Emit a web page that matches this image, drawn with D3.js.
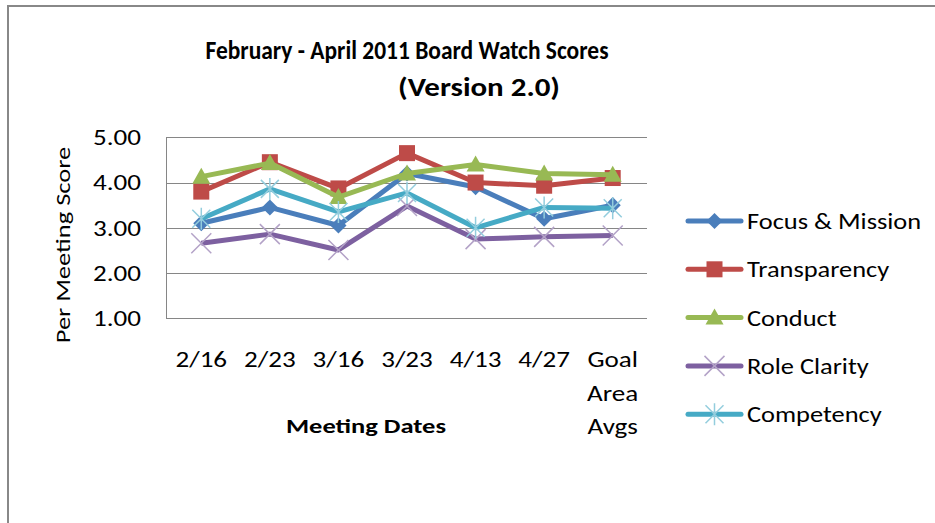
<!DOCTYPE html>
<html>
<head>
<meta charset="utf-8">
<script src="https://cdn.jsdelivr.net/npm/d3@7"></script>
<style>
  body { margin: 0; background: #fff; }
  svg text { font-family: Carlito, Calibri, Lato, "Open Sans", sans-serif; fill: #000; }
</style>
</head>
<body>
<div id="chart"></div>
<script>
// data
var categories = ["2/16", "2/23", "3/16", "3/23", "4/13", "4/27", "Goal Area Avgs"];
var tickLines = [["2/16"], ["2/23"], ["3/16"], ["3/23"], ["4/13"], ["4/27"], ["Goal", "Area", "Avgs"]];
var seriesNames = ["Focus & Mission", "Transparency", "Conduct", "Role Clarity", "Competency"];
var focusMission = [3.10, 3.45, 3.05, 4.20, 3.90, 3.20, 3.50];
var transparency = [3.80, 4.45, 3.87, 4.65, 4.00, 3.93, 4.10];
var conduct      = [4.13, 4.43, 3.68, 4.20, 4.40, 4.20, 4.17];
var roleClarity  = [2.66, 2.86, 2.51, 3.48, 2.75, 2.80, 2.83];
var competency   = [3.20, 3.86, 3.35, 3.77, 3.00, 3.45, 3.43];
var yTicks = [1, 2, 3, 4, 5];

var allValues = [focusMission, transparency, conduct, roleClarity, competency];
var colors = ["#4a7ebb", "#be4b48", "#98b954", "#7d60a0", "#46aac5"];
var markerColors = ["#4a7ebb", "#be4b48", "#98b954", "#b3a2c7", "#93cddd"];
var markers = ["diamond", "square", "triangle", "x", "asterisk"];

var width = 935, height = 523;
var plot = {left: 167, right: 647, top: 137.3, bottom: 318.3};

// the original font (Calibri) is narrower and taller than what we have,
// so stretch the text a bit to the original widths
var stretch = 1.23;
var widen = function(sel, k) {
  sel.each(function() {
    var w = this.getComputedTextLength();
    d3.select(this).attr("textLength", w * k).attr("lengthAdjust", "spacingAndGlyphs");
  });
};

var svg = d3.select("#chart").append("svg")
    .attr("width", width)
    .attr("height", height);

// outer chart border (runs off the right and bottom)
svg.append("path")
    .attr("d", "M8,530 L8,6 L940,6")
    .attr("fill", "none")
    .attr("stroke", "#888")
    .attr("stroke-width", 2);

var x = d3.scaleBand().domain(categories).range([plot.left, plot.right]);
var y = d3.scaleLinear().domain([1, 5]).range([plot.bottom, plot.top]);
var cx = function(c) { return x(c) + x.bandwidth() / 2; };

// gridlines
svg.append("g").selectAll("line")
    .data(yTicks)
    .enter().append("line")
    .attr("x1", plot.left).attr("x2", plot.right)
    .attr("y1", function(d) { return Math.round(y(d)) + 0.5; })
    .attr("y2", function(d) { return Math.round(y(d)) + 0.5; })
    .attr("stroke", "#868686").attr("stroke-width", 1);

svg.append("line")
    .attr("x1", plot.left - 0.5).attr("x2", plot.left - 0.5)
    .attr("y1", Math.round(y(5))).attr("y2", Math.round(y(1)) + 1)
    .attr("stroke", "#868686");

// y tick labels
svg.append("g").selectAll("text")
    .data(yTicks)
    .enter().append("text")
    .attr("x", 141)
    .attr("y", function(d) { return y(d); })
    .attr("dy", "0.36em")
    .attr("text-anchor", "end")
    .style("font-size", "22px")
    .text(function(d) { return d3.format(".2f")(d); })
    .call(widen, stretch);

// x tick labels
var xt = svg.append("g").selectAll("text")
    .data(categories)
    .enter().append("text")
    .attr("text-anchor", "middle")
    .style("font-size", "22px");
xt.each(function(c, i) {
  var t = d3.select(this);
  tickLines[i].forEach(function(s, j) {
    t.append("tspan")
      .attr("x", cx(c))
      .attr("y", 367 + j * 33.5)
      .text(s)
      .call(widen, stretch);
  });
});

// axis titles
svg.append("text")
    .attr("x", 366).attr("y", 433)
    .attr("text-anchor", "middle")
    .style("font-size", "21px").style("font-weight", "bold")
    .text("Meeting Dates")
    .call(widen, 1.26);

svg.append("text")
    .attr("transform", "translate(70,245) rotate(-90)")
    .attr("text-anchor", "middle")
    .style("font-size", "21px")
    .text("Per Meeting Score")
    .call(widen, 1.26);

// title
svg.append("text")
    .attr("x", 407).attr("y", 59)
    .attr("text-anchor", "middle")
    .style("font-size", "27px").style("font-weight", "bold")
    .text("February - April 2011 Board Watch Scores")
    .attr("textLength", 403).attr("lengthAdjust", "spacingAndGlyphs");
svg.append("text")
    .attr("x", 479).attr("y", 96)
    .attr("text-anchor", "middle")
    .style("font-size", "26px").style("font-weight", "bold")
    .text("(Version 2.0)")
    .attr("textLength", 162).attr("lengthAdjust", "spacingAndGlyphs");

function drawMarker(g, type, color, px, py) {
  if (type == "diamond") {
    g.append("path").attr("d", d3.symbol(d3.symbolSquare, 130)())
      .attr("transform", "translate(" + px + "," + py + ") rotate(45)")
      .attr("fill", color);
  } else if (type == "square") {
    g.append("rect").attr("x", px - 8).attr("y", py - 8)
      .attr("width", 16).attr("height", 16).attr("fill", color);
  } else if (type == "triangle") {
    g.append("path").attr("d", "M0,-9 L9,7 L-9,7 Z")
      .attr("transform", "translate(" + px + "," + py + ")")
      .attr("fill", color);
  } else if (type == "x") {
    g.append("path").attr("d", "M-10,-10 L10,10 M-10,10 L10,-10")
      .attr("transform", "translate(" + px + "," + py + ")")
      .attr("stroke", color).attr("stroke-width", 1.5).attr("fill", "none");
  } else {
    g.append("path").attr("d", "M-9,-9 L9,9 M-9,9 L9,-9 M0,-11 L0,11")
      .attr("transform", "translate(" + px + "," + py + ")")
      .attr("stroke", color).attr("stroke-width", 1.5).attr("fill", "none");
  }
}

var line = d3.line()
    .x(function(d, i) { return cx(categories[i]); })
    .y(function(d) { return y(d); });

allValues.forEach(function(vals, s) {
  var g = svg.append("g");
  g.append("path")
    .attr("d", line(vals))
    .attr("fill", "none")
    .attr("stroke", colors[s])
    .attr("stroke-width", 5)
    .attr("stroke-linejoin", "round");
  vals.forEach(function(v, i) {
    drawMarker(g, markers[s], markerColors[s], cx(categories[i]), y(v));
  });
});

// legend
var legend = svg.append("g");
seriesNames.forEach(function(name, s) {
  var ly = 221 + s * 48.3;
  legend.append("line")
    .attr("x1", 688).attr("x2", 741).attr("y1", ly).attr("y2", ly)
    .attr("stroke", colors[s]).attr("stroke-width", 5).attr("stroke-linecap", "round");
  drawMarker(legend, markers[s], markerColors[s], 714.5, ly);
  legend.append("text")
    .attr("x", 747).attr("y", ly).attr("dy", "0.36em")
    .style("font-size", "22px")
    .text(name)
    .call(widen, 1.2);
});
</script>
</body>
</html>
